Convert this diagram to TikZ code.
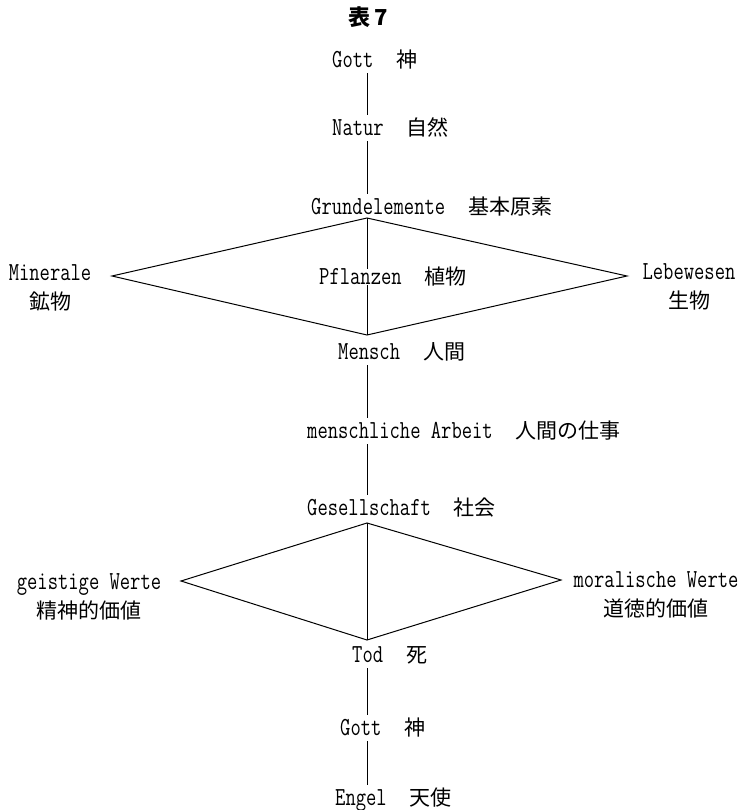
\documentclass[tikz,border=0pt]{standalone}
\usepackage{fontspec}
\setmonofont[FakeStretch=0.77]{Latin Modern Mono}
\newfontfamily\cjk{Noto Sans CJK JP}
\newcommand\lat{\fontsize{26}{29}\ttfamily\selectfont}
\newcommand\cj{\fontsize{21}{29}\cjk\selectfont}
\newcommand\lgap{\hspace{23pt}}
\begin{document}
\begin{tikzpicture}[x=1pt,y=-1pt,
  lbl/.style={inner sep=0pt,anchor=west,text height=20.5pt,text depth=5.5pt},
  twol/.style={inner sep=0pt,align=center,font=\fontsize{26}{29}\selectfont},
  ln/.style={line width=1pt,black}]
\useasboundingbox (0,0) rectangle (746,810);
\coordinate (spine) at (367,0);
% title
\node[inner sep=0pt] (title) at (368,17) {\fontsize{22}{26}\cjk\bfseries\selectfont 表\,7};
% main labels
\node[lbl] (gott1) at (332,60) {\lat Gott\lgap\cj 神};
\node[lbl] (natur) at (332,128) {\lat Natur\lgap\cj 自然};
\node[lbl] (grund) at (311,207) {\lat Grundelemente\lgap\cj 基本原素};
\node[lbl,text height=15pt,text depth=1pt] (pfl) at (319,277) {\lat Pflanzen\lgap\cj 植物};
\node[lbl] (mensch) at (338,352) {\lat Mensch\lgap\cj 人間};
\node[lbl] (arbeit) at (307,431) {\lat menschliche Arbeit\lgap\cj 人間の仕事};
\node[lbl] (gesell) at (307,508) {\lat Gesellschaft\lgap\cj 社会};
\node[lbl] (tod) at (352,655) {\lat Tod\lgap\cj 死};
\node[lbl] (gott2) at (340,728) {\lat Gott\lgap\cj 神};
\node[lbl] (engel) at (335,798) {\lat Engel\lgap\cj 天使};
% side labels
\node[twol] (miner) at (50,288) {\lat Minerale\\\cj 鉱物};
\node[twol] (lebe) at (689,287) {\lat Lebewesen\\\cj 生物};
\node[twol] (geist) at (89,597) {\lat geistige Werte\\\cj 精神的価値};
\node[twol] (moral) at (656,595) {\lat moralische Werte\\\cj 道徳的価値};
% diamond vertices
\coordinate (d1t) at (367,218);
\coordinate (d1l) at (112,276);
\coordinate (d1r) at (627,276);
\coordinate (d1b) at (367,335);
\coordinate (d2t) at (367,523);
\coordinate (d2l) at (181,581);
\coordinate (d2r) at (561,580);
\coordinate (d2b) at (367,640);
% spine connectors
\draw[ln] (spine |- gott1.south) -- (spine |- natur.north);
\draw[ln] (spine |- natur.south) -- (spine |- grund.north);
\draw[ln] (d1t) -- (spine |- pfl.north);
\draw[ln] (spine |- pfl.south) -- (d1b);
\draw[ln] (spine |- mensch.south) -- (spine |- arbeit.north);
\draw[ln] (spine |- arbeit.south) -- (spine |- gesell.north);
\draw[ln] (d2t) -- (d2b);
\draw[ln] (spine |- tod.south) -- (spine |- gott2.north);
\draw[ln] (spine |- gott2.south) -- (spine |- engel.north);
% diamonds
\draw[ln,line join=miter] (d1t) -- (d1r) -- (d1b) -- (d1l) -- cycle;
\draw[ln,line join=miter] (d2t) -- (d2r) -- (d2b) -- (d2l) -- cycle;
\end{tikzpicture}
\end{document}
